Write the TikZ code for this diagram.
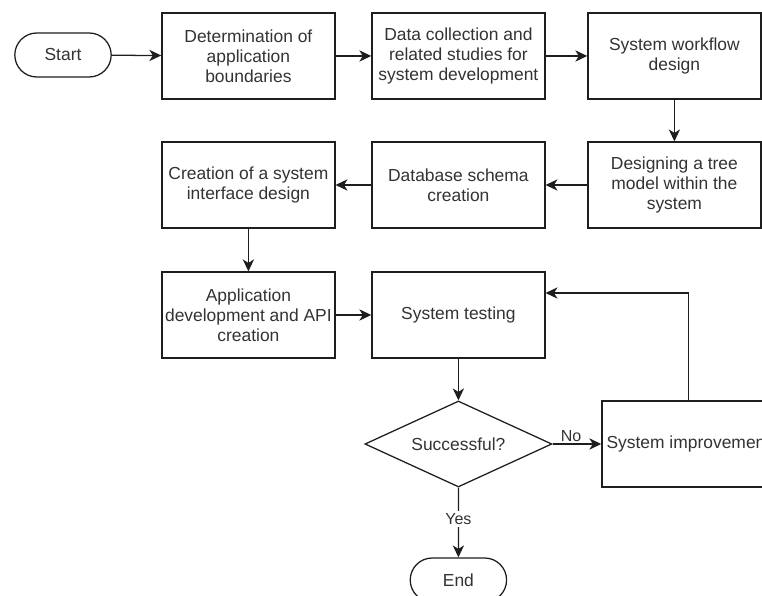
\documentclass[tikz,border=0pt]{standalone}
\usepackage{fontspec}
\setmainfont{Liberation Sans}
\usepackage{xcolor}
\usepackage{tikz}
\usetikzlibrary{arrows.meta,positioning,shapes.geometric,shapes.misc}
\definecolor{cInk}{HTML}{333333}
\definecolor{cLine}{HTML}{1E1E1E}
\tikzset{
  pbox/.style={draw=cLine,fill=white,line width=0.9pt,align=center,text=cInk,minimum width=4.325cm,minimum height=2.15cm,inner sep=2pt,font=\fontsize{12.4}{14.2}\selectfont},
  term/.style={rounded rectangle,draw=cLine,fill=white,line width=0.9pt,text=cInk,minimum width=2.55cm,minimum height=1.1cm,inner sep=2pt,font=\fontsize{12.4}{14.2}\selectfont},
  dec/.style={diamond,aspect=2.2,draw=cLine,fill=white,line width=0.9pt,text=cInk,minimum width=4.675cm,minimum height=2.15cm,inner sep=0pt,font=\fontsize{12.4}{14.2}\selectfont},
  arr/.style={-{Stealth[length=8.5pt,width=8pt,inset=2.5pt]},line width=0.9pt,color=cLine},
  lbl/.style={font=\fontsize{11.4}{13}\selectfont,text=cInk,inner sep=1.5pt},
}

\begin{document}
\begin{tikzpicture}[x=1cm,y=1cm]
  \useasboundingbox (0,0) rectangle (19.05,14.9);
  \clip (0,0) rectangle (19.05,14.9);
  % first row
  \node[term] (start) at (1.575,13.525) {Start};
  \node[pbox] (bound) at (6.21,13.5) {Determination of\\application\\boundaries};
  \node[pbox] (collect) at (11.46,13.5) {Data collection and\\related studies for\\system development};
  \node[pbox] (flow) at (16.86,13.5) {System workflow\\design};
  % second row
  \node[pbox] (tree) at (16.86,10.275) {Designing a tree\\model within the\\system};
  \node[pbox] (schema) at (11.46,10.275) {Database schema\\creation};
  \node[pbox] (iface) at (6.21,10.275) {Creation of a system\\interface design};
  % third row
  \node[pbox] (appdev) at (6.21,7.025) {Application\\development and API\\creation};
  \node[pbox] (test) at (11.46,7.025) {System testing};
  % decision
  \node[dec] (ok) at (11.46,3.8) {Successful?};
  \node[pbox] (improve) at (17.21,3.8) {System improvement};
  \node[term] (end) at (11.46,0.4) {End};
  % connectors
  \draw[arr] (start) -- (bound);
  \draw[arr] (bound) -- (collect);
  \draw[arr] (collect) -- (flow);
  \draw[arr] (flow) -- (tree);
  \draw[arr] (tree) -- (schema);
  \draw[arr] (schema) -- (iface);
  \draw[arr] (iface) -- (appdev);
  \draw[arr] (appdev) -- (test);
  \draw[arr] (test) -- (ok);
  \draw[arr] (ok) -- node[lbl,above,pos=0.38] {No} (improve);
  \draw[arr] (ok) -- node[lbl,fill=white,pos=0.45] {Yes} (end);
  \draw[arr] (improve.north) |- ([yshift=0.55cm]test.east);
\end{tikzpicture}
\end{document}
